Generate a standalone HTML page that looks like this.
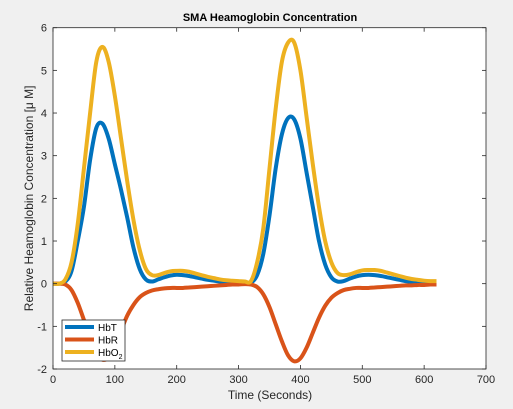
<!DOCTYPE html>
<html><head><meta charset="utf-8"><style>
body{margin:0;background:#f0f0f0;}
svg{display:block;font-family:"Liberation Sans",Arial,sans-serif;}
</style></head><body>
<svg id="chart" width="513" height="409"></svg>
<script>
const times=[0,10,20,30,40,50,60,70,80,90,100,110,120,130,140,150,160,170,180,190,200,210,220,230,240,250,260,270,280,290,300,310,320,330,340,350,360,370,380,390,400,410,420,430,440,450,460,470,480,490,500,510,520,530,540,550,560,570,580,590,600,610,620];
const hbT=[0,0,0.05,0.3,1.0,1.8,2.9,3.65,3.75,3.4,2.8,2.2,1.55,0.85,0.35,0.1,0.05,0.1,0.15,0.19,0.21,0.2,0.18,0.15,0.12,0.09,0.07,0.05,0.03,0.02,0.01,0.01,0.02,0.2,0.7,1.6,2.7,3.5,3.88,3.85,3.4,2.6,1.8,1.0,0.45,0.15,0.05,0.06,0.12,0.17,0.2,0.21,0.2,0.18,0.15,0.12,0.09,0.06,0.04,0.02,0.01,0,0];
const hbR=[0,0,-0.02,-0.15,-0.45,-0.85,-1.25,-1.6,-1.78,-1.72,-1.45,-1.1,-0.75,-0.5,-0.32,-0.22,-0.16,-0.13,-0.11,-0.1,-0.1,-0.1,-0.09,-0.08,-0.07,-0.06,-0.05,-0.04,-0.03,-0.02,-0.02,-0.01,-0.02,-0.08,-0.25,-0.55,-0.95,-1.35,-1.68,-1.82,-1.75,-1.5,-1.15,-0.8,-0.52,-0.33,-0.22,-0.15,-0.12,-0.1,-0.1,-0.1,-0.09,-0.08,-0.07,-0.06,-0.05,-0.04,-0.04,-0.03,-0.03,-0.02,-0.02];
const hbO2=[0,0,0.1,0.5,1.4,2.7,4.0,5.2,5.55,5.2,4.4,3.4,2.4,1.5,0.8,0.35,0.2,0.2,0.25,0.29,0.3,0.3,0.28,0.24,0.2,0.16,0.13,0.1,0.08,0.07,0.06,0.05,0.06,0.5,1.3,2.7,4.1,5.2,5.65,5.65,5.0,3.9,2.8,1.8,1.0,0.5,0.25,0.2,0.22,0.27,0.31,0.32,0.32,0.3,0.26,0.22,0.18,0.14,0.11,0.09,0.07,0.06,0.06];
const xTicks=[0,100,200,300,400,500,600,700];
const yTicks=[-2,-1,0,1,2,3,4,5,6];
const seriesNames=["HbT","HbR","HbO2"];

const NS="http://www.w3.org/2000/svg";
const svg=document.getElementById('chart');
const L=53,R=486,T=27.7,B=369;
const X=v=>L+(v-0)/700*(R-L);
const Y=v=>B-(v+2)/8*(B-T);
function mk(tag,attrs,parent){const e=document.createElementNS(NS,tag);for(const k in attrs)e.setAttribute(k,attrs[k]);(parent||svg).appendChild(e);return e;}

const plot=mk('rect',{x:L,y:T,width:R-L,height:B-T,fill:'#fff'});



function path(xs,ys){
  const p=xs.map((t,i)=>[X(t),Y(ys[i])]);
  let d=`M${p[0][0]},${p[0][1]}`;
  for(let i=0;i<p.length-1;i++){
    const p0=p[Math.max(0,i-1)],p1=p[i],p2=p[i+1],p3=p[Math.min(p.length-1,i+2)];
    const c1=[p1[0]+(p2[0]-p0[0])/6,p1[1]+(p2[1]-p0[1])/6];
    const c2=[p2[0]-(p3[0]-p1[0])/6,p2[1]-(p3[1]-p1[1])/6];
    d+=`C${c1[0]},${c1[1]} ${c2[0]},${c2[1]} ${p2[0]},${p2[1]}`;
  }
  return d;
}
const colors=['#0072BD','#D95319','#EDB120'];
[hbT,hbR,hbO2].forEach((s,i)=>{
  const e=mk('path',{d:path(times,s),fill:'none',stroke:colors[i],'stroke-width':4,'stroke-linejoin':'round'});
  
  
});

const box=mk('rect',{x:L,y:T,width:R-L,height:B-T,fill:'none',stroke:'#262626','stroke-width':0.8});



xTicks.forEach(v=>{
  mk('line',{x1:X(v),x2:X(v),y1:B,y2:B-4,stroke:'#262626','stroke-width':0.8});
  mk('line',{x1:X(v),x2:X(v),y1:T,y2:T+4,stroke:'#262626','stroke-width':0.8});
  const t=mk('text',{x:X(v),y:B+14,'font-size':11,'text-anchor':'middle',fill:'#262626'});
  t.textContent=v;
  
  
});
yTicks.forEach(v=>{
  mk('line',{x1:L,x2:L+4,y1:Y(v),y2:Y(v),stroke:'#262626','stroke-width':0.8});
  mk('line',{x1:R,x2:R-4,y1:Y(v),y2:Y(v),stroke:'#262626','stroke-width':0.8});
  const t=mk('text',{x:47,y:Y(v)+4,'font-size':11,'text-anchor':'end',fill:'#262626'});
  t.textContent=v;
  
  
});

const title=mk('text',{x:270,y:21,'font-size':11,'font-weight':'bold','text-anchor':'middle',fill:'#000'});
title.textContent='SMA Heamoglobin Concentration';


const xl=mk('text',{x:270,y:399,'font-size':12,'text-anchor':'middle',fill:'#262626'});
xl.textContent='Time (Seconds)';


const yl=mk('text',{x:0,y:0,'font-size':12,'text-anchor':'middle',fill:'#262626',transform:`translate(33,${(T+B)/2}) rotate(-90)`});
yl.textContent='Relative Heamoglobin Concentration [\u03BC M]';



const lg=mk('g',{});


mk('rect',{x:62,y:320,width:63,height:41,fill:'#fff',stroke:'#262626','stroke-width':0.8},lg);
seriesNames.forEach((n,i)=>{
  const yy=327+i*12.5;
  const ln=mk('line',{x1:65,x2:94,y1:yy,y2:yy,stroke:colors[i],'stroke-width':4},lg);
  
  
  const t=mk('text',{x:98,y:yy+4,'font-size':10,fill:'#000'},lg);
  if(n==='HbO2'){t.innerHTML='HbO<tspan font-size="7" dy="3">2</tspan>';}else t.textContent=n;
  
  
});
</script>
</body></html>
